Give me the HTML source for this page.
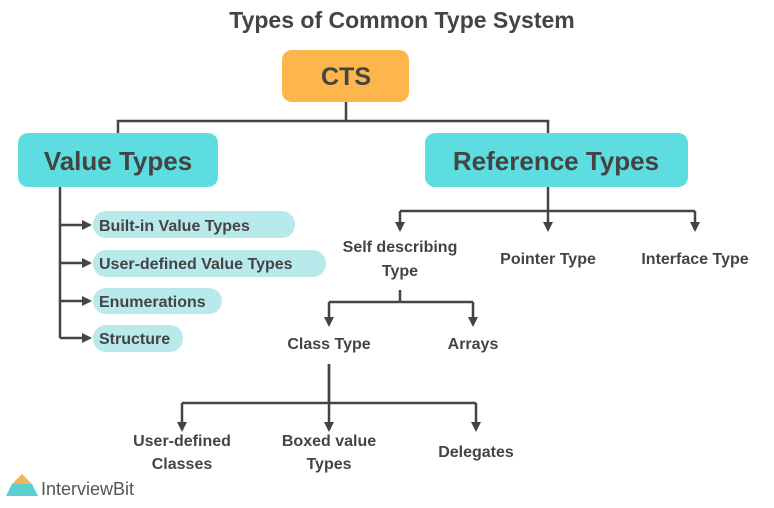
<!DOCTYPE html>
<html><head><meta charset="utf-8"><style>
body{margin:0;background:#fff;}
svg text{font-family:"Liberation Sans",sans-serif;fill:#444;}
</style></head><body>
<svg width="774" height="503" viewBox="0 0 774 503" xmlns="http://www.w3.org/2000/svg">
<defs><marker id="a" markerWidth="10" markerHeight="10" refX="8" refY="5" orient="auto" markerUnits="userSpaceOnUse"><path d="M0,0 L10,5 L0,10 z" fill="#444"/></marker></defs>
<text x="402" y="28" font-size="23" font-weight="bold" text-anchor="middle">Types of Common Type System</text>
<rect x="282" y="50" width="127" height="52" rx="10" fill="#FDB64B"/>
<text x="346" y="85" font-size="25" font-weight="bold" text-anchor="middle">CTS</text>
<g stroke="#444" stroke-width="2.5" fill="none">
<path d="M346 102V121M118 133V121H548V133"/>
<path d="M60 187V338"/>
<path d="M60 225H90" marker-end="url(#a)"/>
<path d="M60 263H90" marker-end="url(#a)"/>
<path d="M60 301H90" marker-end="url(#a)"/>
<path d="M60 338H90" marker-end="url(#a)"/>
<path d="M548 187V211M400 211H695"/>
<path d="M400 211V230" marker-end="url(#a)"/>
<path d="M548 211V230" marker-end="url(#a)"/>
<path d="M695 211V230" marker-end="url(#a)"/>
<path d="M400 290V302H329M400 302H473"/>
<path d="M329 302V325" marker-end="url(#a)"/>
<path d="M473 302V325" marker-end="url(#a)"/>
<path d="M329 364V403M182 403H476"/>
<path d="M182 403V430" marker-end="url(#a)"/>
<path d="M329 364V430" marker-end="url(#a)"/>
<path d="M476 403V430" marker-end="url(#a)"/>
</g>
<rect x="18" y="133" width="200" height="54" rx="10" fill="#5EDDE0"/>
<text x="118" y="170" font-size="26" font-weight="bold" text-anchor="middle">Value Types</text>
<rect x="425" y="133" width="263" height="54" rx="10" fill="#5EDDE0"/>
<text x="556" y="170" font-size="26" font-weight="bold" text-anchor="middle">Reference  Types</text>
<g fill="#B8EAEC">
<rect x="93" y="211" width="202" height="27" rx="13"/>
<rect x="93" y="250" width="233" height="27" rx="13"/>
<rect x="93" y="288" width="129" height="26" rx="13"/>
<rect x="93" y="325" width="90" height="27" rx="13"/>
</g>
<g font-size="16" font-weight="bold">
<text x="99" y="231">Built-in Value Types</text>
<text x="99" y="269">User-defined Value Types</text>
<text x="99" y="307">Enumerations</text>
<text x="99" y="344">Structure</text>
</g>
<g font-size="16" font-weight="bold" text-anchor="middle">
<text x="400" y="252">Self describing</text>
<text x="400" y="276">Type</text>
<text x="548" y="264">Pointer Type</text>
<text x="695" y="264">Interface Type</text>
<text x="329" y="349">Class Type</text>
<text x="473" y="349">Arrays</text>
<text x="182" y="446">User-defined</text>
<text x="182" y="469">Classes</text>
<text x="329" y="446">Boxed value</text>
<text x="329" y="469">Types</text>
<text x="476" y="457">Delegates</text>
</g>
<g>
<path d="M22 474L12 484L32 484Z" fill="#F4B45C"/>
<path d="M12 484L32 484L38 496L6 496Z" fill="#5CCFD3"/>
</g>
<text x="41" y="495" font-size="18" style="fill:#555">Interview<tspan font-weight="normal">Bit</tspan></text>
</svg>
</body></html>
